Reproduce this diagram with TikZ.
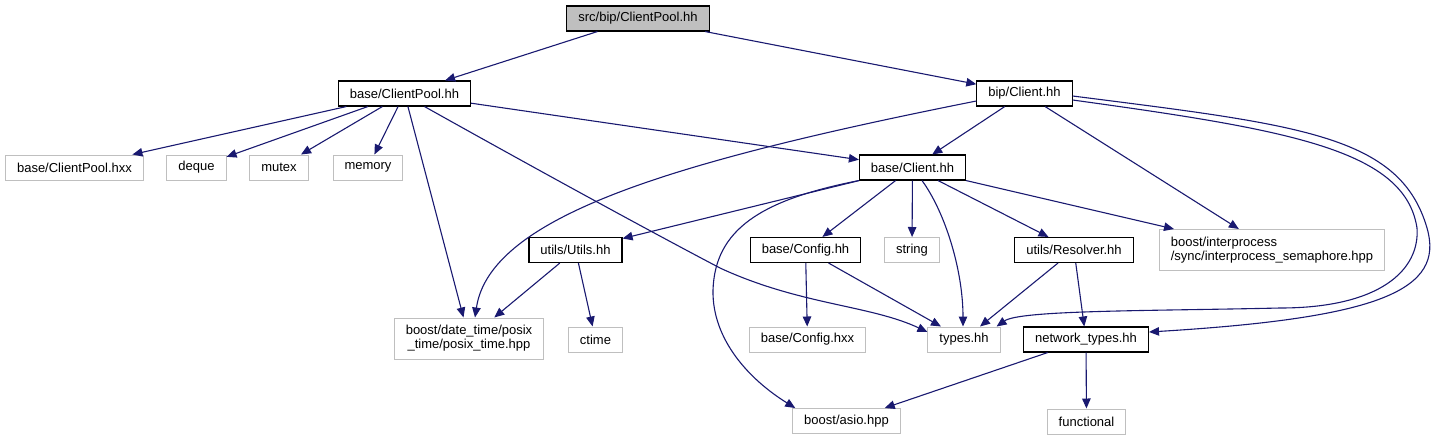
\documentclass[tikz,border=0pt]{standalone}
\usepackage{fontspec}
\setmainfont{Liberation Sans}
\usepackage{tikz}
\usetikzlibrary{arrows.meta}
\definecolor{edgeblue}{RGB}{25,25,112}
\definecolor{extgray}{RGB}{191,191,191}

\begin{document}
\begin{tikzpicture}[x=1pt, y=-1pt, font=\fontsize{13}{14}\selectfont,
  hdr/.style={draw=black, line width=1.1pt, fill=white, inner xsep=11.5pt, inner ysep=3pt, minimum height=25pt},
  ext/.style={draw=extgray, line width=1pt, fill=white, inner xsep=11.5pt, inner ysep=3pt, minimum height=25pt},
  dep/.style={-{Triangle[length=10pt,width=8.5pt]}, edgeblue, line width=1.1pt}]
  \useasboundingbox (0,0) rectangle (1437,440);
  \node[hdr,fill=extgray] (root) at (638,18.5) {src/bip/ClientPool.hh};
  \node[hdr] (bcp) at (404.5,93.5) {base/ClientPool.hh};
  \node[hdr] (bipc) at (1024.5,93.5) {bip/Client.hh};
  \node[ext] (bcphxx) at (74.5,167.5) {base/ClientPool.hxx};
  \node[ext] (deque) at (196.5,167.5) {deque};
  \node[ext] (mutex) at (279,167.5) {mutex};
  \node[ext] (memory) at (368,167.5) {memory};
  \node[hdr] (bc) at (912.5,167.5) {base/Client.hh};
  \node[hdr] (utils) at (575.5,250) {utils/Utils.hh};
  \node[hdr] (cfg) at (805.5,250) {base/Config.hh};
  \node[ext] (string) at (912,250) {string};
  \node[hdr] (resolver) at (1074,250) {utils/Resolver.hh};
  \node[ext,align=left,minimum height=41pt] (ipc) at (1272,250) {boost/interprocess\\/sync/interprocess\_semaphore.hpp};
  \node[ext,align=center,minimum height=41pt] (posix) at (469,338.5) {boost/date\_time/posix\\\_time/posix\_time.hpp};
  \node[ext] (ctime) at (595.5,339.5) {ctime};
  \node[ext] (cfghxx) at (807.5,339.5) {base/Config.hxx};
  \node[ext] (types) at (964,339.5) {types.hh};
  \node[hdr] (nettypes) at (1086,339.5) {network\_types.hh};
  \node[ext] (asio) at (846.5,421) {boost/asio.hpp};
  \node[ext] (functional) at (1086.5,421.5) {functional};
  % top level
  \draw[dep] (root) -- (bcp);
  \draw[dep] (root) -- (bipc);
  % base/ClientPool.hh
  \draw[dep] (bcp) -- (bcphxx);
  \draw[dep] (bcp) -- (deque);
  \draw[dep] (bcp) -- (mutex);
  \draw[dep] (bcp) -- (memory);
  \draw[dep] (bcp) -- (posix);
  \draw[dep] (bcp) -- (bc);
  \draw[dep] ([xshift=20pt]bcp.south) .. controls (520,160) and (640,226) .. (720,268)
    .. controls (800,305) and (870,305) .. ([yshift=7.5pt]types.west);
  % bip/Client.hh
  \draw[dep] (bipc) -- (bc);
  \draw[dep] (bipc) -- (ipc);
  \draw[dep] ([yshift=-7.5pt]bipc.west) .. controls (680,160) and (490,215) .. ([xshift=6pt]posix.north);
  \draw[dep] ([yshift=-6.5pt]bipc.east) .. controls (1290,130) and (1405,150) .. (1417,228)
    .. controls (1420,270) and (1380,308) .. (1280,308)
    .. controls (1150,311) and (1020,310) .. ([xshift=-4pt]types.north east);
  \draw[dep] ([yshift=-2.5pt]bipc.east) .. controls (1300,125) and (1400,135) .. (1427,228)
    .. controls (1445,290) and (1380,318) .. ([yshift=7.5pt]nettypes.east);
  % base/Client.hh
  \draw[dep] (bc) -- (utils);
  \draw[dep] (bc) -- (cfg);
  \draw[dep] (bc) -- (string);
  \draw[dep] (bc) -- (resolver);
  \draw[dep] (bc.south east) -- ([xshift=-98pt]ipc.north);
  \draw[dep] ([xshift=9.5pt]bc.south) .. controls (945,212) and (963,270) .. ([xshift=-1pt]types.north);
  \draw[dep] (bc.south west) .. controls (760,200) and (715,230) .. (713,290)
    .. controls (712,340) and (750,380) .. ([xshift=3pt]asio.north west);
  % second level
  \draw[dep] (utils) -- (posix);
  \draw[dep] (utils) -- (ctime);
  \draw[dep] (cfg) -- (cfghxx);
  \draw[dep] (cfg) -- (types);
  \draw[dep] (resolver) -- (types);
  \draw[dep] (resolver) -- (nettypes);
  \draw[dep] (nettypes) -- (asio);
  \draw[dep] (nettypes) -- (functional);
\end{tikzpicture}
\end{document}
